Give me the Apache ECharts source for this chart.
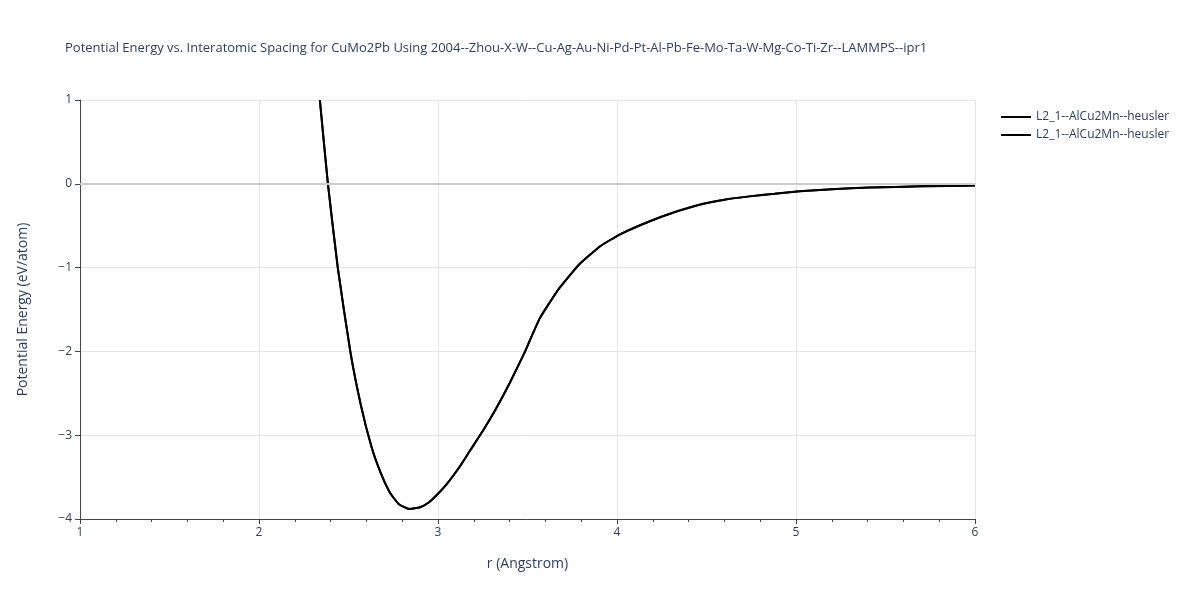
<!DOCTYPE html>
<html><head><meta charset="utf-8">
<script src="https://cdn.jsdelivr.net/npm/echarts@6/dist/echarts.min.js"></script>
<style>html,body{margin:0;padding:0;background:#fff}#c{width:1200px;height:600px}</style>
</head><body><div id="c"></div>
<script>
const rValues = [2.34,2.385,2.44,2.51,2.57,2.63,2.68,2.73,2.78,2.84,2.9,2.95,2.99,3.05,3.12,3.18,3.25,3.32,3.4,3.48,3.57,3.68,3.79,3.91,4.02,4.18,4.32,4.46,4.6,4.74,4.88,5.02,5.2,5.41,5.7,6.0];
const energyValues = [1.0,0.0,-1.0,-2.0,-2.65,-3.15,-3.45,-3.68,-3.82,-3.88,-3.86,-3.8,-3.72,-3.58,-3.38,-3.18,-2.95,-2.7,-2.38,-2.03,-1.6,-1.24,-0.96,-0.74,-0.6,-0.45,-0.34,-0.25,-0.19,-0.15,-0.12,-0.09,-0.065,-0.045,-0.03,-0.02];
const seriesNames = ["L2_1--AlCu2Mn--heusler","L2_1--AlCu2Mn--heusler "];
const data = rValues.map((r,i)=>[r,energyValues[i]]);
const chart = echarts.init(document.getElementById('c'));
const font = '"Open Sans", sans-serif';
chart.setOption({
  animation:false,
  title:{text:'Potential Energy vs. Interatomic Spacing for CuMo2Pb Using 2004--Zhou-X-W--Cu-Ag-Au-Ni-Pd-Pt-Al-Pb-Fe-Mo-Ta-W-Mg-Co-Ti-Zr--LAMMPS--ipr1',
    left:60,top:37,textStyle:{fontFamily:font,fontSize:13,fontWeight:'normal',color:'#2a3f5f'}},
  legend:{data:seriesNames,orient:'vertical',left:996,top:106,itemWidth:30,itemHeight:2,itemGap:6,
    icon:'rect',textStyle:{fontFamily:font,fontSize:12,color:'#2a3f5f'}},
  grid:{left:80,right:225,top:100,bottom:81},
  xAxis:{type:'value',min:1,max:6,interval:1,name:'r (Angstrom)',nameLocation:'middle',nameGap:38,
    nameTextStyle:{fontFamily:font,fontSize:14,color:'#2a3f5f'},
    axisLine:{onZero:false,lineStyle:{color:'#444'}},axisTick:{show:true,length:5,lineStyle:{color:'#444'}},
    minorTick:{show:true,splitNumber:5,length:3,lineStyle:{color:'#444'}},
    axisLabel:{fontFamily:font,fontSize:12,color:'#2a3f5f'},
    splitLine:{lineStyle:{color:'#e5e5e5'}}},
  yAxis:{type:'value',min:-4,max:1,interval:1,name:'Potential Energy (eV/atom)',nameLocation:'middle',nameGap:50,
    nameTextStyle:{fontFamily:font,fontSize:14,color:'#2a3f5f'},
    axisLine:{show:true,onZero:false,lineStyle:{color:'#444'}},axisTick:{show:true,length:5,lineStyle:{color:'#444'}},
    axisLabel:{fontFamily:font,fontSize:12,color:'#2a3f5f',formatter:v=>v<0?'\u2212'+(-v):String(v)},
    splitLine:{lineStyle:{color:'#e5e5e5',width:1}}},
  series:seriesNames.map(n=>({name:n,type:'line',data:data,smooth:0.15,showSymbol:false,
    lineStyle:{color:'#000',width:2},itemStyle:{color:'#000'},
    markLine: n===seriesNames[0]?{silent:true,symbol:'none',label:{show:false},lineStyle:{color:'#ccc',width:2,type:'solid'},data:[{yAxis:0}]}:undefined}))
});
</script></body></html>
